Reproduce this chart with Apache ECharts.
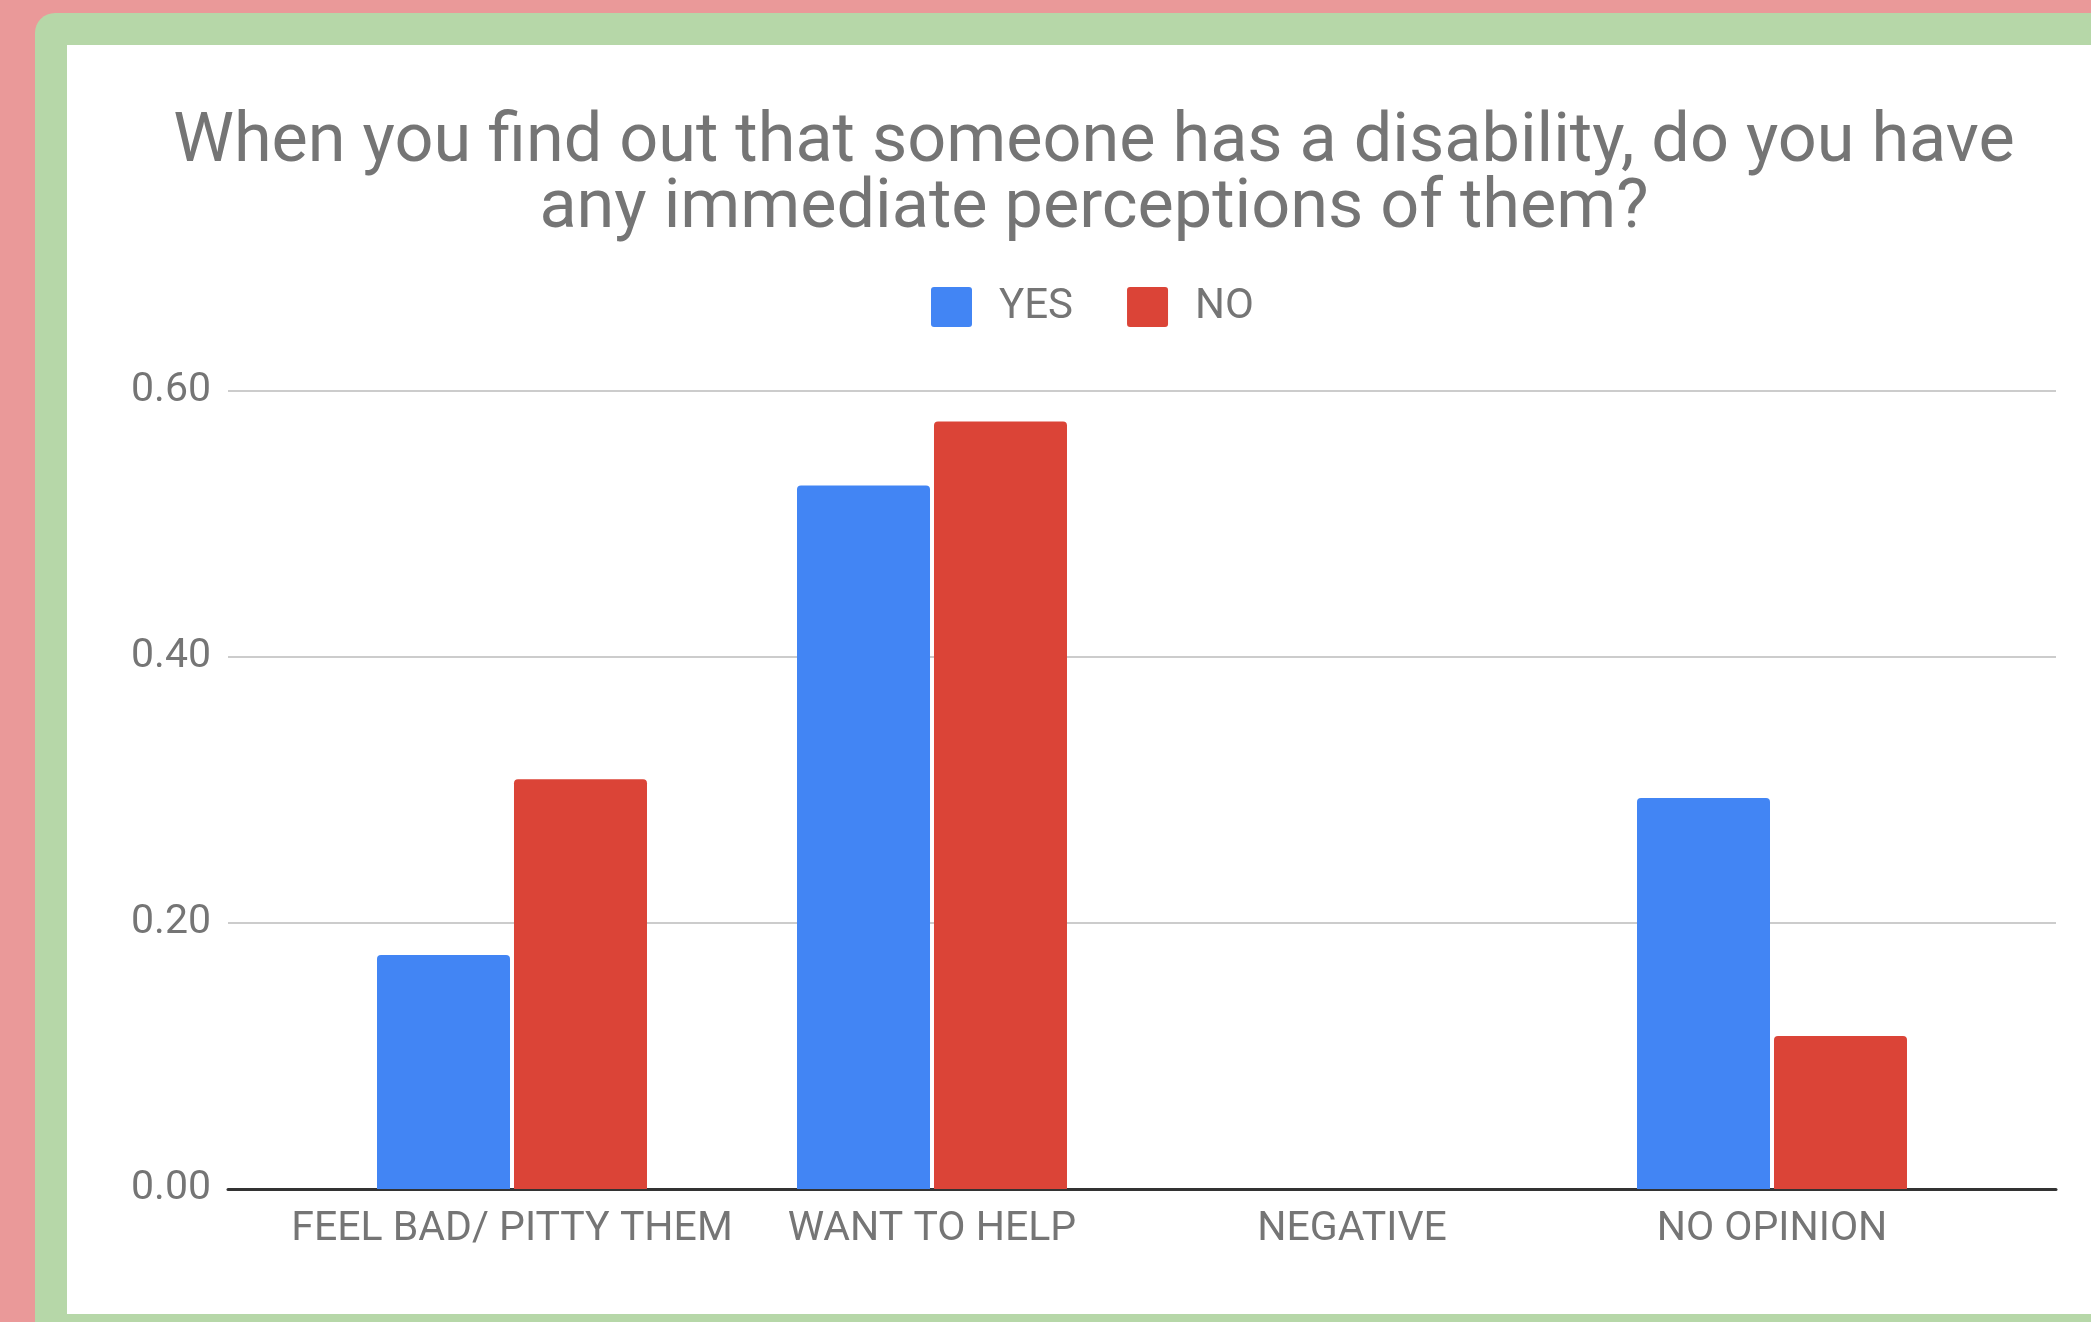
<!DOCTYPE html>
<html>
<head>
<meta charset="utf-8">
<script src="https://cdn.jsdelivr.net/npm/echarts@6/dist/echarts.min.js"></script>
<style>
  html, body { margin: 0; padding: 0; width: 2091px; height: 1322px; overflow: hidden; background: #ea9999; }
  #frame { position: absolute; left: 35px; top: 13px; width: 2100px; height: 1340px; background: #b6d7a8; border-radius: 20px; }
  #card { position: absolute; left: 67px; top: 45px; width: 2100px; height: 1269px; background: #ffffff; }
  #chart { position: absolute; left: 0; top: 0; width: 2091px; height: 1322px; }
</style>
</head>
<body>
<div id="frame"></div>
<div id="card"></div>
<div id="chart"></div>
<script>
// Survey answers, share of respondents per group
const categories = ['FEEL BAD/ PITTY THEM', 'WANT TO HELP', 'NEGATIVE', 'NO OPINION'];
const seriesNames = ['YES', 'NO'];
const yesValues = [0.176, 0.529, 0, 0.294];
const noValues = [0.308, 0.577, 0, 0.115];
const yTicks = [0, 0.2, 0.4, 0.6];

const FONT = 'Roboto, Arial, sans-serif';
const TEXT = '#757575';
// small square swatch with slightly rounded corners
const SWATCH = 'path://M3,0 L38,0 Q41,0 41,3 L41,37 Q41,40 38,40 L3,40 Q0,40 0,37 L0,3 Q0,0 3,0 Z';

const chart = echarts.init(document.getElementById('chart'), null, { renderer: 'canvas' });

chart.setOption({
  backgroundColor: 'transparent',
  animation: false,
  title: {
    text: 'When you find out that someone has a disability, do you have\nany immediate perceptions of them?',
    left: 1089,
    top: 106,
    textAlign: 'center',
    textStyle: { fontFamily: FONT, fontSize: 68.4, fontWeight: 'normal', color: TEXT, lineHeight: 66 }
  },
  legend: {
    data: seriesNames,
    left: 931,
    top: 286,
    padding: 0,
    itemWidth: 41,
    itemHeight: 40,
    itemGap: 54,
    icon: SWATCH,
    textStyle: { fontFamily: FONT, fontSize: 42, color: TEXT, padding: [0, 0, 0, 22] }
  },
  grid: [
    // full-width frame carrying gridlines and baseline
    { left: 228, right: 35, top: 391, bottom: 133 },
    // inset band holding the category groups
    { left: 302, right: 109, top: 391, bottom: 133 }
  ],
  xAxis: [
    {
      gridIndex: 0, type: 'value', min: 0, max: 1,
      axisLine: { show: true, lineStyle: { color: '#333333', width: 3 } },
      axisTick: { show: false }, axisLabel: { show: false }, splitLine: { show: false }
    },
    {
      gridIndex: 1, type: 'category', data: categories,
      axisLine: { show: false }, axisTick: { show: false },
      axisLabel: { fontFamily: FONT, fontSize: 41, color: TEXT, margin: 20, interval: 0 }
    }
  ],
  yAxis: [
    {
      gridIndex: 0, type: 'value', min: yTicks[0], max: yTicks[yTicks.length - 1], interval: 0.2,
      axisLine: { show: false }, axisTick: { show: false },
      axisLabel: { fontFamily: FONT, fontSize: 41, color: TEXT, margin: 17, formatter: v => v.toFixed(2) },
      splitLine: { lineStyle: { color: '#cccccc', width: 2 } }
    },
    {
      gridIndex: 1, type: 'value', min: yTicks[0], max: yTicks[yTicks.length - 1], interval: 0.2,
      show: false, splitLine: { show: false }
    }
  ],
  series: [
    {
      name: seriesNames[0], type: 'bar', xAxisIndex: 1, yAxisIndex: 1,
      data: yesValues, barWidth: 133, barGap: '3%',
      itemStyle: { color: '#4285f4', borderRadius: [4, 4, 0, 0] }
    },
    {
      name: seriesNames[1], type: 'bar', xAxisIndex: 1, yAxisIndex: 1,
      data: noValues, barWidth: 133, barGap: '3%',
      itemStyle: { color: '#db4437', borderRadius: [4, 4, 0, 0] }
    }
  ]
});
</script>
</body>
</html>
